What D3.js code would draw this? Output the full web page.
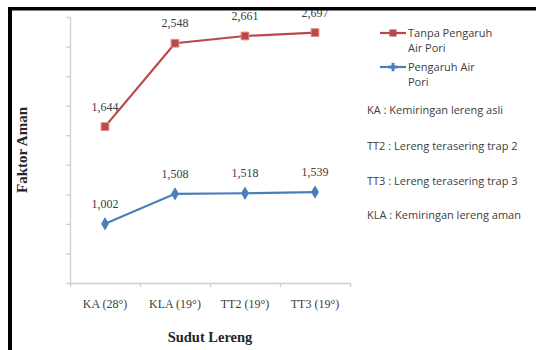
<!DOCTYPE html>
<html>
<head>
<meta charset="utf-8">
<script src="https://cdn.jsdelivr.net/npm/d3@7"></script>
<style>
  html, body { margin: 0; padding: 0; background: #fff; }
  svg { display: block; }
</style>
</head>
<body>
<svg id="chart" width="536" height="350"></svg>
<script>
// Slope cases and safety factors (FK) for each case
const categories = ["KA (28°)", "KLA (19°)", "TT2 (19°)", "TT3 (19°)"];
const fkPengaruhAirPori = [1.002, 1.508, 1.518, 1.539];
const fkTanpaPengaruhAirPori = [1.644, 2.548, 2.661, 2.697];
const yTicks = [0, 0.5, 1, 1.5, 2, 2.5, 3, 3.5, 4, 4.5];
const notes = [
  "KA : Kemiringan lereng asli",
  "TT2 : Lereng terasering trap 2",
  "TT3 : Lereng terasering trap 3",
  "KLA : Kemiringan lereng aman"
];

const svg = d3.select("#chart");
const plot = { left: 70, right: 350, top: 17, bottom: 283 };

// stacked line layout: the second series sits on top of the first
const rows = categories.map((c, i) => ({
  cat: c,
  pengaruh: fkPengaruhAirPori[i],
  tanpa: fkTanpaPengaruhAirPori[i]
}));
const stacked = d3.stack().keys(["pengaruh", "tanpa"])(rows);

const x = d3.scaleBand().domain(categories).range([plot.left, plot.right]);
const xEdge = d3.scaleLinear().domain([0, categories.length]).range([plot.left, plot.right]);
const y = d3.scaleLinear().domain([0, 4.5]).range([plot.bottom, plot.top]);
const cx = c => x(c) + x.bandwidth() / 2;

const axisColor = "#cfcfcf";

// value axis (no labels)
const gy = svg.append("g")
  .attr("transform", `translate(${plot.left},0)`)
  .call(d3.axisLeft(y).tickValues(yTicks).tickFormat("").tickSize(4).tickSizeOuter(0));
gy.selectAll("path, line").attr("stroke", axisColor).attr("stroke-width", 1.3);

// category axis: ticks between categories
const gxTicks = svg.append("g")
  .attr("transform", `translate(0,${plot.bottom})`)
  .call(d3.axisBottom(xEdge).tickValues(d3.range(0, categories.length + 1)).tickFormat("").tickSize(4).tickSizeOuter(0));
gxTicks.selectAll("path, line").attr("stroke", axisColor).attr("stroke-width", 1.3);

const gx = svg.append("g")
  .attr("transform", `translate(0,${plot.bottom})`)
  .call(d3.axisBottom(x).tickSize(0).tickPadding(16));
gx.select(".domain").remove();
gx.selectAll("text")
  .attr("font-family", "Liberation Serif, serif")
  .attr("font-size", 12)
  .attr("fill", "#404040");

// series styles
const styles = {
  tanpa: { color: "#bb4848", marker: "square" },
  pengaruh: { color: "#4a7ebb", marker: "diamond" }
};

const line = d3.line().x(d => cx(d.data.cat)).y(d => y(d[1]));
const fmt = v => d3.format(".3f")(v).replace(".", ",");

stacked.forEach(layer => {
  const st = styles[layer.key];
  svg.append("path")
    .datum(layer)
    .attr("d", line)
    .attr("fill", "none")
    .attr("stroke", st.color)
    .attr("stroke-width", 2.2);

  const sym = st.marker === "square"
    ? d3.symbol().type(d3.symbolSquare).size(60)
    : d3.symbol().type(d3.symbolDiamond).size(40);

  svg.append("g").selectAll("path")
    .data(layer)
    .join("path")
    .attr("d", sym)
    .attr("transform", d => `translate(${cx(d.data.cat)},${y(d[1])})`)
    .attr("fill", st.color)
    .attr("stroke", st.marker === "square" ? "#e08a88" : st.color)
    .attr("stroke-width", 1);

  svg.append("g").selectAll("text")
    .data(layer)
    .join("text")
    .attr("x", d => cx(d.data.cat))
    .attr("y", d => y(d[1]) - 16)
    .attr("text-anchor", "middle")
    .attr("font-family", "Liberation Serif, serif")
    .attr("font-size", 12)
    .attr("fill", "#404040")
    .text(d => fmt(d.data[layer.key]));
});

// axis titles
svg.append("text")
  .attr("x", 210).attr("y", 342)
  .attr("text-anchor", "middle")
  .attr("font-family", "Liberation Serif, serif")
  .attr("font-weight", "bold")
  .attr("font-size", 14.5)
  .attr("fill", "#262626")
  .text("Sudut Lereng");

svg.append("text")
  .attr("transform", "translate(27,150) rotate(-90)")
  .attr("text-anchor", "middle")
  .attr("font-family", "Liberation Serif, serif")
  .attr("font-weight", "bold")
  .attr("font-size", 15)
  .attr("fill", "#262626")
  .text("Faktor Aman");

// legend
const legendFont = "Open Sans, Liberation Sans, sans-serif";
const legendItems = [
  { key: "tanpa", lines: ["Tanpa Pengaruh", "Air Pori"], y: 33 },
  { key: "pengaruh", lines: ["Pengaruh Air", "Pori"], y: 67 }
];
legendItems.forEach(it => {
  const st = styles[it.key];
  svg.append("line")
    .attr("x1", 380).attr("x2", 406)
    .attr("y1", it.y).attr("y2", it.y)
    .attr("stroke", st.color).attr("stroke-width", 2.2);
  svg.append("path")
    .attr("d", st.marker === "square"
      ? d3.symbol().type(d3.symbolSquare).size(50)()
      : d3.symbol().type(d3.symbolCross).size(40)())
    .attr("transform", `translate(393,${it.y})`)
    .attr("fill", st.color);
  const t = svg.append("text")
    .attr("x", 408).attr("y", it.y + 3.5)
    .attr("font-family", legendFont)
    .attr("font-size", 11)
    .attr("fill", "#404040");
  t.selectAll("tspan").data(it.lines).join("tspan")
    .attr("x", 408)
    .attr("dy", (d, i) => i === 0 ? 0 : 15)
    .text(d => d);
});

// abbreviation notes
const noteY = [110, 146, 181, 215];
svg.append("g").selectAll("text")
  .data(notes)
  .join("text")
  .attr("x", 367)
  .attr("y", (d, i) => noteY[i] + 3.5)
  .attr("font-family", legendFont)
  .attr("font-size", 11)
  .attr("fill", "#404040")
  .text(d => d);

// black frame on the top and left edges
svg.append("line")
  .attr("x1", 8).attr("x2", 536).attr("y1", 8.75).attr("y2", 8.75)
  .attr("stroke", "#000").attr("stroke-width", 3.5);
svg.append("line")
  .attr("x1", 10).attr("x2", 10).attr("y1", 7).attr("y2", 350)
  .attr("stroke", "#000").attr("stroke-width", 4);
</script>
</body>
</html>
